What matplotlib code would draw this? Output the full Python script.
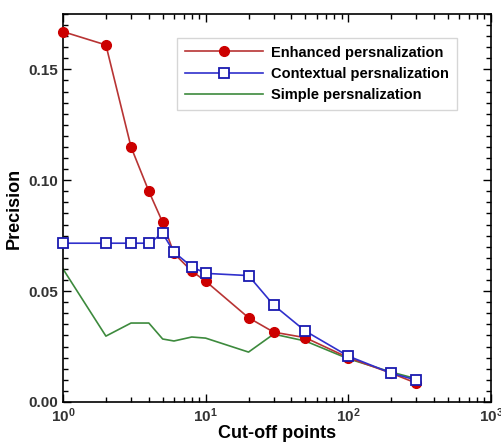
import matplotlib
matplotlib.use("Agg")
import matplotlib.pyplot as plt
from matplotlib.ticker import LogLocator, MultipleLocator, FormatStrFormatter

x_enh = [1, 2, 3, 4, 5, 6, 8, 10, 20, 30, 50, 100, 200, 300]
enhanced = [0.167, 0.161, 0.115, 0.095, 0.081, 0.067, 0.059, 0.0545, 0.038, 0.0315, 0.029, 0.020, 0.013, 0.0085]

x_ctx = [1, 2, 3, 4, 5, 6, 8, 10, 20, 30, 50, 100, 200, 300]
contextual = [0.0716, 0.0716, 0.0716, 0.0716, 0.076, 0.0676, 0.061, 0.058, 0.057, 0.0437, 0.032, 0.0207, 0.013, 0.0099]

x_sim = [1, 2, 3, 4, 5, 6, 8, 10, 20, 30, 50, 100, 200, 300]
simple = [0.060, 0.0297, 0.0356, 0.0356, 0.0284, 0.0275, 0.0293, 0.0288, 0.0225, 0.0306, 0.0275, 0.0195, 0.0135, 0.0105]

labels = ["Enhanced persnalization", "Contextual persnalization", "Simple persnalization"]

plt.rcParams['font.family'] = ['Liberation Sans', 'DejaVu Sans']

fig = plt.figure(figsize=(5.01, 4.43), dpi=100)
ax = fig.add_axes([0.1257, 0.0926, 0.854, 0.876])

ax.plot(x_enh, enhanced, color='#b83434', lw=1.2, marker='o', ms=7,
        mfc='#cc0000', mec='#cc0000', label=labels[0], zorder=3, clip_on=False)
ax.plot(x_ctx, contextual, color='#3030cc', lw=1.2, marker='s', ms=7,
        mfc='white', mec='#1a1ab0', mew=1.3, label=labels[1], zorder=4, clip_on=False)
ax.plot(x_sim, simple, color='#3d8a3d', lw=1.2, label=labels[2], zorder=2)

ax.set_xscale('log')
ax.set_xlim(1, 1000)
ax.set_ylim(0, 0.175)
ax.yaxis.set_major_locator(MultipleLocator(0.05))
ax.yaxis.set_minor_locator(MultipleLocator(0.005))
ax.yaxis.set_major_formatter(FormatStrFormatter('%.2f'))
ax.xaxis.set_major_locator(LogLocator(base=10, numticks=10))
ax.xaxis.set_minor_locator(LogLocator(base=10, subs=range(2, 10), numticks=10))

ax.tick_params(which='both', direction='in', top=True, right=True, width=1.0)
ax.tick_params(which='major', length=6, labelsize=11)
ax.tick_params(which='minor', length=3.5)
for lab in ax.get_xticklabels() + ax.get_yticklabels():
    lab.set_fontweight('bold')
    lab.set_color('#333333')
for sp in ax.spines.values():
    sp.set_linewidth(1.2)

ax.set_xlabel('Cut-off points', fontsize=13, fontweight='bold', labelpad=0)
ax.set_ylabel('Precision', fontsize=13, fontweight='bold', labelpad=4)

leg = ax.legend(loc='upper left', bbox_to_anchor=(0.25, 0.958),
                prop={'weight': 'bold', 'size': 10.5}, frameon=True, fancybox=False,
                handlelength=5.3, handletextpad=0.6, borderpad=0.55, labelspacing=0.5)
leg.get_frame().set_edgecolor('#cccccc')
leg.get_frame().set_linewidth(1.0)

fig.savefig('out.png', dpi=100)
